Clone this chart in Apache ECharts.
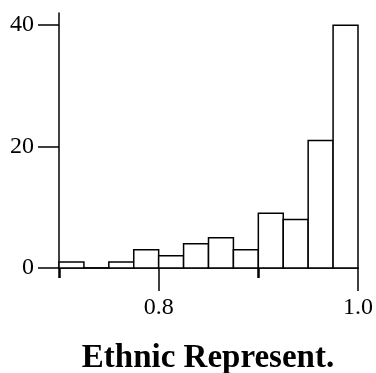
<!DOCTYPE html>
<html>
<head>
<meta charset="utf-8">
<script src="https://cdn.jsdelivr.net/npm/echarts@6/dist/echarts.min.js"></script>
<style>
html,body{margin:0;padding:0;background:#fff;}
#c{width:376px;height:373px;}
</style>
</head>
<body>
<div id="c"></div>
<script>
const binStarts = [0.7, 0.725, 0.75, 0.775, 0.8, 0.825, 0.85, 0.875, 0.9, 0.925, 0.95, 0.975];
const binEnds   = [0.725, 0.75, 0.775, 0.8, 0.825, 0.85, 0.875, 0.9, 0.925, 0.95, 0.975, 1.0];
const counts    = [1, 0, 1, 3, 2, 4, 5, 3, 9, 8, 21, 40];
const xMajorTicks = [0.8, 1.0];
const xMinorTicks = [0.7, 0.9];
const yTicks = [0, 20, 40];
const titleText = 'Ethnic Represent.';

const FONT = '"Liberation Serif", "DejaVu Serif", serif';
const chart = echarts.init(document.getElementById('c'), null, {renderer: 'canvas'});
const data = binStarts.map((s, i) => [s, binEnds[i], counts[i]]);

chart.setOption({
  animation: false,
  backgroundColor: '#fff',
  title: {
    text: titleText,
    left: 203, top: 337,
    textAlign: 'center',
    textStyle: {fontFamily: FONT, fontWeight: 'bold', fontSize: 33, color: '#000'}
  },
  grid: {left: 59, right: 17, top: 13, bottom: 105, containLabel: false},
  xAxis: [{
    type: 'value', min: 0.7, max: 1.0, position: 'bottom',
    axisLine: {show: true, onZero: false, lineStyle: {color: '#000', width: 1.5}},
    axisTick: {show: true, customValues: xMajorTicks, length: 23, lineStyle: {color: '#000', width: 1.5}},
    axisLabel: {show: true, customValues: xMajorTicks, margin: 28,
      formatter: v => v.toFixed(1),
      fontFamily: FONT, fontSize: 24, color: '#000'},
    splitLine: {show: false}
  }, {
    type: 'value', min: 0.7, max: 1.0, position: 'bottom',
    axisLine: {show: false},
    axisTick: {show: true, customValues: xMinorTicks, length: 10, lineStyle: {color: '#000', width: 2.5}},
    axisLabel: {show: false},
    splitLine: {show: false}
  }],
  yAxis: {
    type: 'value', min: 0, max: 42,
    axisLine: {show: true, lineStyle: {color: '#000', width: 1.5}},
    axisTick: {show: true, customValues: yTicks, length: 21, lineStyle: {color: '#000', width: 1.5}},
    axisLabel: {show: true, customValues: yTicks, margin: 25, fontFamily: FONT, fontSize: 24, color: '#000'},
    splitLine: {show: false}
  },
  series: [{
    type: 'custom',
    xAxisIndex: 0,
    data: data,
    encode: {x: [0, 1], y: 2},
    renderItem: function (params, api) {
      const p0 = api.coord([api.value(0), api.value(2)]);
      const p1 = api.coord([api.value(1), 0]);
      return {
        type: 'rect',
        shape: {x: p0[0], y: p0[1], width: p1[0] - p0[0], height: p1[1] - p0[1]},
        style: {fill: '#fff', stroke: '#000', lineWidth: 1.5}
      };
    }
  }]
});
</script>
</body>
</html>
